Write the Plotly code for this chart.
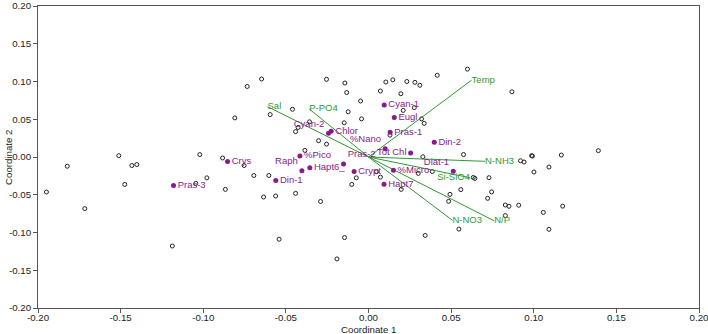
import plotly.graph_objects as go

# ---- sample (object) scores: open ellipses ----
obj_x = [-0.1823, -0.1949, -0.1511, -0.1432, -0.1402, -0.1475, -0.1717, -0.1187, -0.1021, -0.0883,
         -0.0809, -0.0753, -0.0978, -0.1045, -0.0866, -0.0694, -0.0603, -0.0635, -0.0562, -0.0441,
         -0.0290, -0.0541, -0.0145, -0.0191, -0.0074, -0.0101, 0.0049, 0.0072, 0.0198, 0.0301,
         0.0386, 0.0493, 0.0559, 0.0485, 0.0343, 0.0547, 0.0329, -0.0647, -0.0734, -0.0254,
         -0.0143, -0.0132, 0.0105, 0.0147, 0.0232, 0.0281, 0.0311, 0.0416, 0.0599, 0.0072,
         0.0196, -0.0048, -0.0460, -0.0595, -0.0123, -0.0042, 0.0210, 0.0277, 0.0321, 0.0337,
         -0.0357, -0.0147, -0.0426, -0.0441, -0.0302, -0.0254, 0.0130, -0.0385, 0.0575, 0.0868,
         0.0920, 0.0941, 0.0987, 0.0992, 0.1167, 0.1391, 0.1092, 0.1001, 0.0634, 0.0644,
         0.0729, 0.0745, 0.0721, 0.0828, 0.0850, 0.0909, 0.1175, 0.1058, 0.0828, 0.1092]
obj_y = [-0.0122, -0.0464, 0.0018, -0.0113, -0.0100, -0.0363, -0.0684, -0.1179, 0.0032, -0.0013,
         0.0518, -0.0113, -0.0276, -0.0349, -0.0429, -0.0245, -0.0245, -0.0530, -0.0517, -0.0482,
         -0.0589, -0.1089, -0.1067, -0.1350, -0.0276, -0.0363, -0.0195, -0.0267, -0.0429, -0.0217,
         -0.0192, -0.0495, -0.0432, -0.0587, -0.1039, -0.0955, 0.0003, 0.1033, 0.0934, 0.1029,
         0.0980, 0.0854, 0.0993, 0.1022, 0.1000, 0.0989, 0.0950, 0.1082, 0.1164, 0.0874,
         0.0838, 0.0742, 0.0632, 0.0562, 0.0599, 0.0505, 0.0617, 0.0654, 0.0505, 0.0446,
         0.0466, 0.0453, 0.0391, 0.0336, 0.0216, 0.0171, 0.0289, 0.0088, 0.0032, 0.0864,
         -0.0050, -0.0067, 0.0018, 0.0012, 0.0026, 0.0084, -0.0133, -0.0199, -0.0271, -0.0284,
         -0.0274, -0.0462, -0.0547, -0.0636, -0.0653, -0.0639, -0.0651, -0.0734, -0.0776, -0.0958]

# ---- taxa (purple) ----
taxa = ["Cyan-1", "Eugl", "Pras-1", "Din-2", "Chlor", "Cyan-2", "%Nano", "Tot Chl", "Diat-1",
        "%Micro", "Hapt7", "Crypt", "Pras-2", "Hapt6_", "Raph", "%Pico", "Din-1", "Crys", "Pras-3"]
taxa_x = [0.0095, 0.0156, 0.0131, 0.0398, -0.0226, -0.0242, 0.0101, 0.0255, 0.0513,
          0.0151, 0.0094, -0.0087, -0.0151, -0.0355, -0.0403, -0.0415, -0.0561, -0.0853, -0.1180]
taxa_y = [0.0689, 0.0522, 0.0329, 0.0197, 0.0342, 0.0316, 0.0108, 0.0053, -0.0188,
          -0.0175, -0.0362, -0.0192, -0.0092, -0.0142, -0.0182, 0.0013, -0.0311, -0.0061, -0.0376]
taxa_pos = ["middle right", "middle right", "middle right", "middle right", "middle right",
            "top left", "top left", "middle left", "top left", "middle right", "middle right",
            "middle right", "top right", "middle right", "top left", "middle right",
            "middle right", "middle right", "middle right"]

# ---- environmental vectors (green) ----
env = ["Temp", "Sal", "P-PO4", "N-NH3", "Si-SiO4", "N-NO3", "N/P"]
env_x = [0.0624, -0.0611, -0.0359, 0.0705, 0.0614, 0.0508, 0.0761]
env_y = [0.1018, 0.0667, 0.0637, -0.0057, -0.0274, -0.0839, -0.0846]
env_pos = ["middle right", "middle right", "middle right", "middle right", "middle left",
           "middle right", "middle right"]

tick_vals = [-0.20, -0.15, -0.10, -0.05, 0.00, 0.05, 0.10, 0.15, 0.20]
tick_text = ["-0.20", "-0.15", "-0.10", "-0.05", "0.00", "0.05", "0.10", "0.15", "0.20"]

PURPLE = "#8a1a8a"
GREEN = "#2f9a2f"
FONT = "Liberation Sans, Arial, sans-serif"

fig = go.Figure()

fig.add_trace(go.Scatter(
    x=obj_x, y=obj_y, mode="markers",
    marker=dict(symbol="circle-open", size=4, color="#222222", line=dict(width=1, color="#222222")),
    hoverinfo="skip", showlegend=False))

vx, vy = [], []
for ex, ey in zip(env_x, env_y):
    vx += [0, ex, None]
    vy += [0, ey, None]
fig.add_trace(go.Scatter(x=vx, y=vy, mode="lines", line=dict(color=GREEN, width=1),
                         hoverinfo="skip", showlegend=False))

fig.add_trace(go.Scatter(
    x=taxa_x, y=taxa_y, mode="markers+text", text=taxa, textposition=taxa_pos,
    marker=dict(size=5, color=PURPLE),
    textfont=dict(family=FONT, size=9.5, color=PURPLE),
    cliponaxis=False, showlegend=False))

fig.add_trace(go.Scatter(
    x=env_x, y=env_y, mode="text", text=env, textposition=env_pos,
    textfont=dict(family=FONT, size=9.5, color=GREEN),
    cliponaxis=False, showlegend=False))

axis_common = dict(
    range=[-0.2, 0.2], tickvals=tick_vals, ticktext=tick_text,
    showgrid=False, zeroline=False, showline=True, mirror=True,
    linecolor="#555555", linewidth=1, ticks="outside", ticklen=4, tickcolor="#555555",
    tickfont=dict(family=FONT, size=9.7, color="#222222"), automargin=False,
    ticklabeloverflow="allow")

fig.update_layout(
    width=708, height=334,
    margin=dict(l=38, r=9, t=6, b=26),
    paper_bgcolor="white", plot_bgcolor="white",
    font=dict(family=FONT, size=10, color="#222222"),
    xaxis=dict(axis_common, ticklabelstandoff=-4),
    yaxis=dict(axis_common),
    annotations=[
        dict(text="Coordinate 1", xref="paper", yref="paper", x=0.5, y=-0.071,
             xanchor="center", yanchor="middle", showarrow=False,
             font=dict(family=FONT, size=9.7, color="#222222")),
        dict(text="Coordinate 2", xref="paper", yref="paper", x=-0.0454, y=0.5,
             xanchor="center", yanchor="middle", textangle=-90, showarrow=False,
             font=dict(family=FONT, size=9.7, color="#222222")),
    ],
)

fig.write_html("out.html")
